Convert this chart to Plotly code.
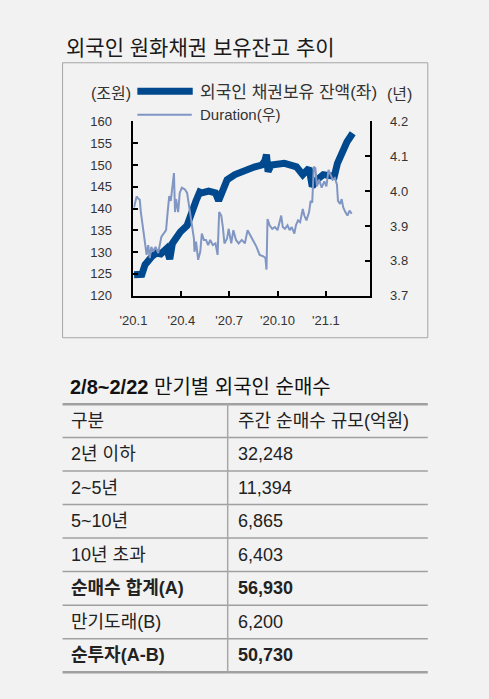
import plotly.graph_objects as go

W, H = 489, 699

# foreign holdings of KRW bonds, trillion won (left axis)
BAL_DATES = ["2020-01-02", "2020-01-17", "2020-01-23", "2020-01-29", "2020-02-05", "2020-02-14",
             "2020-02-22", "2020-03-04", "2020-03-10", "2020-03-15", "2020-03-22", "2020-03-30",
             "2020-04-12", "2020-04-21", "2020-04-25", "2020-04-29", "2020-05-06", "2020-05-10",
             "2020-05-23", "2020-06-05", "2020-06-11", "2020-06-17", "2020-06-27", "2020-07-12",
             "2020-07-25", "2020-08-06", "2020-08-19", "2020-09-01", "2020-09-07", "2020-09-10",
             "2020-09-13", "2020-09-19", "2020-10-02", "2020-10-14", "2020-10-26", "2020-11-06",
             "2020-11-18", "2020-11-30", "2020-12-06", "2020-12-15", "2020-12-27", "2021-01-08",
             "2021-01-17", "2021-01-23", "2021-02-01", "2021-02-10", "2021-02-21"]
BALANCE = [124.8, 124.9, 127.1, 128.2, 129.0, 129.8,
           129.6, 130.8, 128.4, 132.0, 133.5, 134.6,
           136.1, 138.6, 140.4, 141.8, 143.8, 143.6,
           144.0, 143.6, 141.8, 144.0, 146.6, 147.8,
           148.5, 148.9, 149.6, 150.0, 151.0, 152.4,
           148.5, 150.0, 150.4, 150.4, 150.0, 149.6,
           147.8, 149.3, 145.1, 146.6, 147.8, 147.4,
           147.4, 150.4, 153.4, 155.3, 157.3]

# duration, years (right axis)
DUR_DATES = ["2020-01-02", "2020-01-07", "2020-01-09", "2020-01-13", "2020-01-15", "2020-01-20",
             "2020-01-23", "2020-01-26", "2020-01-29", "2020-02-01", "2020-02-04", "2020-02-07",
             "2020-02-12", "2020-02-17", "2020-02-23", "2020-02-29", "2020-03-03", "2020-03-06",
             "2020-03-09", "2020-03-12", "2020-03-15", "2020-03-18", "2020-03-20", "2020-03-22",
             "2020-03-26", "2020-03-29", "2020-04-02", "2020-04-08", "2020-04-12", "2020-04-15",
             "2020-04-20", "2020-04-25", "2020-04-26", "2020-04-29", "2020-05-03", "2020-05-07",
             "2020-05-10", "2020-05-14", "2020-05-18", "2020-05-22", "2020-05-26", "2020-05-31",
             "2020-06-05", "2020-06-09", "2020-06-12", "2020-06-16", "2020-06-19", "2020-06-22",
             "2020-06-27", "2020-06-30", "2020-07-05", "2020-07-09", "2020-07-14", "2020-07-19",
             "2020-07-25", "2020-07-31", "2020-08-05", "2020-08-10", "2020-08-16", "2020-08-22",
             "2020-08-28", "2020-09-04", "2020-09-08", "2020-09-10", "2020-09-12", "2020-09-16",
             "2020-09-21", "2020-09-26", "2020-10-01", "2020-10-05", "2020-10-08", "2020-10-11",
             "2020-10-15", "2020-10-20", "2020-10-24", "2020-10-28", "2020-11-02", "2020-11-05",
             "2020-11-09", "2020-11-13", "2020-11-18", "2020-11-21", "2020-11-25", "2020-11-30",
             "2020-12-03", "2020-12-06", "2020-12-09", "2020-12-12", "2020-12-15", "2020-12-19",
             "2020-12-24", "2020-12-29", "2021-01-02", "2021-01-06", "2021-01-10", "2021-01-14",
             "2021-01-18", "2021-01-22", "2021-01-24", "2021-01-28", "2021-01-31", "2021-02-03",
             "2021-02-07", "2021-02-11", "2021-02-15", "2021-02-19"]
DURATION = [3.953, 3.985, 3.980, 3.975, 3.940, 3.880,
            3.836, 3.817, 3.845, 3.808, 3.840, 3.826,
            3.840, 3.822, 3.869, 3.883, 3.888, 3.940,
            3.986, 3.972, 4.024, 4.052, 3.940, 3.977,
            3.940, 3.995, 4.010, 4.005, 3.995, 3.967,
            3.911, 3.864, 3.826, 3.855, 3.803, 3.826,
            3.878, 3.860, 3.860, 3.845, 3.860, 3.845,
            3.850, 3.817, 3.940, 3.930, 3.897, 3.850,
            3.864, 3.892, 3.850, 3.888, 3.860, 3.850,
            3.860, 3.850, 3.888, 3.874, 3.855, 3.840,
            3.817, 3.813, 3.808, 3.775, 3.920, 3.902,
            3.892, 3.897, 3.888, 3.911, 3.930, 3.897,
            3.892, 3.902, 3.888, 3.897, 3.878, 3.902,
            3.916, 3.911, 3.949, 3.930, 3.916, 3.940,
            3.972, 3.967, 4.070, 4.066, 4.014, 4.033,
            4.010, 4.028, 4.014, 4.061, 4.047, 4.033,
            4.038, 4.019, 3.972, 3.963, 3.977, 3.953,
            3.940, 3.930, 3.944, 3.935]

X_TICKS = ["2020-01-01", "2020-04-01", "2020-07-01", "2020-10-01", "2021-01-01"]
X_TICK_TEXT = ["'20.1", "'20.4", "'20.7", "'20.10", "'21.1"]

TABLE_HEAD = ["구분", "주간 순매수 규모(억원)"]
ROW_LABELS = ["2년 이하", "2~5년", "5~10년", "10년 초과", "순매수 합계(A)", "만기도래(B)", "순투자(A-B)"]
ROW_VALUES = [32248, 11394, 6865, 6403, 56930, 6200, 50730]
ROW_BOLD = [False, False, False, False, True, False, True]

BG = "#f2f2f2"
DARK = "#00498f"
LIGHT = "#8096c3"
TXT = "#222222"
FONT = "Liberation Sans, Noto Sans CJK KR, sans-serif"


def px(x):
    return x / W


def py(y):
    return 1 - y / H


fig = go.Figure()
fig.add_trace(go.Scatter(x=BAL_DATES, y=BALANCE, mode="lines", yaxis="y",
                         line=dict(color=DARK, width=7), showlegend=False))
fig.add_trace(go.Scatter(x=DUR_DATES, y=DURATION, mode="lines", yaxis="y2",
                         line=dict(color=LIGHT, width=2), showlegend=False))

tick_font = dict(family=FONT, size=13, color="#333333")
axis_common = dict(showline=True, linecolor="black", linewidth=2, ticks="inside",
                   ticklen=5, tickcolor="black", tickwidth=2, showgrid=False,
                   zeroline=False, tickfont=tick_font)

shapes = [
    # chart frame
    dict(type="rect", xref="paper", yref="paper", x0=px(50), x1=px(426), y0=py(338), y1=py(57),
         line=dict(color="#a6a6a6", width=1)),
    # legend keys
    dict(type="line", xref="paper", yref="paper", x0=px(127), x1=px(184), y0=py(86), y1=py(86),
         line=dict(color=DARK, width=7)),
    dict(type="line", xref="paper", yref="paper", x0=px(127), x1=px(183), y0=py(110), y1=py(110),
         line=dict(color=LIGHT, width=2)),
]

annotations = [
    dict(text="외국인 원화채권 보유잔고 추이", x=px(51), y=py(41), xanchor="left", yanchor="middle",
         font=dict(family=FONT, size=21, color="#1a1a1a")),
    dict(text="(조원)", x=px(122), y=py(88), xanchor="right", yanchor="middle",
         font=dict(family=FONT, size=16, color="#333333")),
    dict(text="외국인 채권보유 잔액(좌)", x=px(189), y=py(87), xanchor="left", yanchor="middle",
         font=dict(family=FONT, size=17, color="#333333")),
    dict(text="(년)", x=px(382), y=py(89), xanchor="left", yanchor="middle",
         font=dict(family=FONT, size=16, color="#333333")),
    dict(text="Duration(우)", x=px(189), y=py(110), xanchor="left", yanchor="middle",
         font=dict(family=FONT, size=15, color="#333333")),
    dict(text="<b>2/8~2/22</b> 만기별 외국인 순매수", x=px(56), y=py(388), xanchor="left",
         yanchor="middle", font=dict(family=FONT, size=20, color="#111111")),
]

# table
top, head_h, row_h = 406, 34, 34.25
lines_y = [top, top + head_h] + [top + head_h + row_h * (i + 1) for i in range(len(ROW_LABELS))]
for i, yy in enumerate(lines_y):
    shapes.append(dict(type="line", xref="paper", yref="paper", x0=px(50), x1=px(426),
                       y0=py(yy), y1=py(yy),
                       line=dict(color="#a0a0a0", width=2.5 if i in (0, len(lines_y) - 1) else 1.5)))
shapes.append(dict(type="line", xref="paper", yref="paper", x0=px(220), x1=px(220),
                   y0=py(lines_y[0]), y1=py(lines_y[-1]), line=dict(color="#a8a8a8", width=1.5)))

cell_font = dict(family=FONT, size=18, color=TXT)
annotations.append(dict(text=TABLE_HEAD[0], x=px(57), y=py(top + head_h / 2), xanchor="left",
                        yanchor="middle", font=cell_font))
annotations.append(dict(text=TABLE_HEAD[1], x=px(229), y=py(top + head_h / 2), xanchor="left",
                        yanchor="middle", font=cell_font))
for i, (lab, val, bold) in enumerate(zip(ROW_LABELS, ROW_VALUES, ROW_BOLD)):
    yc = top + head_h + row_h * i + row_h / 2
    t1, t2 = lab, f"{val:,}"
    if bold:
        t1, t2 = f"<b>{t1}</b>", f"<b>{t2}</b>"
    annotations.append(dict(text=t1, x=px(57), y=py(yc), xanchor="left", yanchor="middle",
                            font=cell_font))
    annotations.append(dict(text=t2, x=px(229), y=py(yc), xanchor="left", yanchor="middle",
                            font=cell_font))

for a in annotations:
    a.update(xref="paper", yref="paper", showarrow=False)

fig.update_layout(
    width=W, height=H, margin=dict(l=0, r=0, t=0, b=0),
    paper_bgcolor=BG, plot_bgcolor=BG,
    xaxis=dict(domain=[px(123), px(366)], range=["2020-01-01", "2021-03-25"], type="date",
               tickvals=X_TICKS, ticktext=X_TICK_TEXT, ticklabelstandoff=12, **axis_common),
    yaxis=dict(domain=[py(295), py(117)], range=[120, 160], dtick=5, ticklabelstandoff=17,
               **axis_common),
    yaxis2=dict(overlaying="y", side="right", anchor="x", range=[3.7, 4.2], dtick=0.1,
                tickformat=".1f", ticklabelstandoff=16, **axis_common),
    shapes=shapes, annotations=annotations,
)

fig.write_html("out.html", config={"displayModeBar": False},
               post_script="document.body.style.margin='0';document.body.style.overflow='hidden';")
